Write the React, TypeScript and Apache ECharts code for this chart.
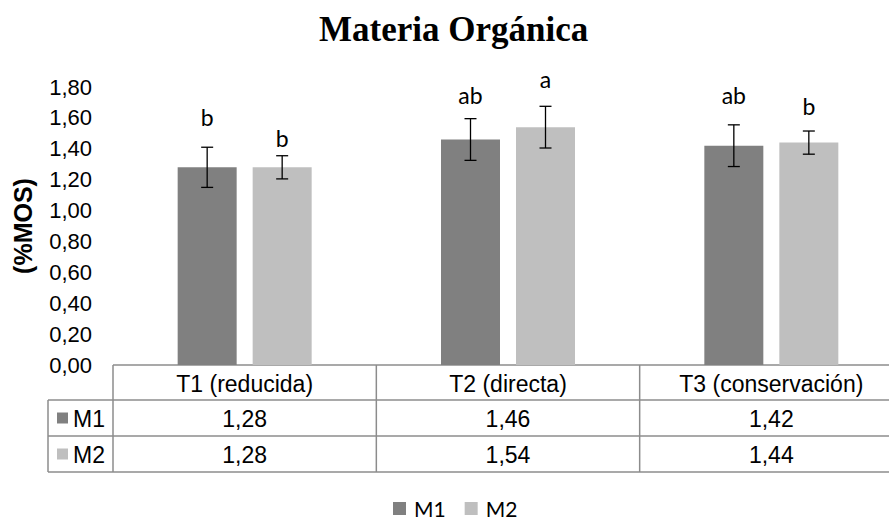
import React, { useEffect, useRef } from "react";
import * as echarts from "echarts";

const categories = ["T1 (reducida)", "T2 (directa)", "T3 (conservación)"];
const seriesNames = ["M1", "M2"];
const m1Values = [1.28, 1.46, 1.42];
const m2Values = [1.28, 1.54, 1.44];
const m1Errors = [0.13, 0.135, 0.135];
const m2Errors = [0.075, 0.135, 0.075];
const m1Letters = ["b", "ab", "ab"];
const m2Letters = ["b", "a", "b"];
const m1LetterLevel = [1.603, 1.747, 1.747];
const m2LetterLevel = [1.467, 1.851, 1.679];
const yMin = 0;
const yMax = 1.8;
const yInterval = 0.2;

const C1 = "#808080";
const C2 = "#bfbfbf";
const GRID_COLOR = "#8c8c8c";
const BAR_W = 59;
const BAR_GAP = 16;
const SANS = '"Liberation Sans", Arial, sans-serif';
const LETTER_FONT = "Lato, 'Open Sans', sans-serif";

const fmt = (v: number) => v.toFixed(2).replace(".", ",");

function errorSeries(name: string, values: number[], errs: number[], letters: string[], levels: number[], sign: number) {
  return {
    name,
    type: "custom",
    coordinateSystem: "cartesian2d",
    clip: false,
    z: 5,
    data: values.map((v, i) => [i, v]),
    encode: { x: 0, y: 1 },
    renderItem: (params: any, api: any) => {
      const i = params.dataIndex;
      const v = values[i];
      const e = errs[i];
      const off = sign * (BAR_W / 2 + BAR_GAP / 2);
      const c = api.coord([i, v]);
      const x = c[0] + off;
      const yt = api.coord([i, v + e])[1];
      const yb = api.coord([i, v - e])[1];
      const yl = api.coord([i, levels[i]])[1];
      const cap = 6;
      const st = { stroke: "#000", lineWidth: 1.3 };
      return {
        type: "group",
        children: [
          { type: "line", shape: { x1: x, y1: yt, x2: x, y2: yb }, style: st },
          { type: "line", shape: { x1: x - cap, y1: yt, x2: x + cap, y2: yt }, style: st },
          { type: "line", shape: { x1: x - cap, y1: yb, x2: x + cap, y2: yb }, style: st },
          {
            type: "text",
            style: {
              text: letters[i],
              x,
              y: yl,
              align: "center",
              verticalAlign: "middle",
              fill: "#000",
              fontSize: 23,
              fontFamily: LETTER_FONT,
            },
          },
        ],
      };
    },
  };
}

function buildTable(chart: any) {
  const xs = categories.map((_, i) => chart.convertToPixel({ xAxisIndex: 0 }, i) as number);
  const band = xs[1] - xs[0];
  const yBase = chart.convertToPixel({ yAxisIndex: 0 }, yMin) as number;
  const left = xs[0] - band / 2;
  const right = xs[xs.length - 1] + band / 2;
  const labelLeft = left - 65;
  const headerH = 35;
  const rowH = 36;
  const r1 = yBase + headerH;
  const r2 = r1 + rowH;
  const r3 = r2 + rowH;
  const ls = { stroke: GRID_COLOR, lineWidth: 1.5 };
  const els: any[] = [];
  const line = (x1: number, y1: number, x2: number, y2: number) =>
    els.push({ type: "line", shape: { x1, y1, x2, y2 }, style: ls, silent: true });
  line(left, yBase, right, yBase);
  line(labelLeft, r1, right, r1);
  line(labelLeft, r2, right, r2);
  line(labelLeft, r3, right, r3);
  line(labelLeft, r1, labelLeft, r3);
  for (let i = 0; i <= categories.length; i++) {
    const x = left + i * band;
    line(x, yBase, x, r3);
  }
  const txt = (text: string, x: number, y: number, align = "center") =>
    els.push({
      type: "text",
      silent: true,
      style: { text, x, y, align, verticalAlign: "middle", fill: "#000", fontSize: 23, fontFamily: SANS },
    });
  categories.forEach((c, i) => {
    txt(c, xs[i], yBase + headerH / 2 + 1);
    txt(fmt(m1Values[i]), xs[i], r1 + rowH / 2 + 1);
    txt(fmt(m2Values[i]), xs[i], r2 + rowH / 2 + 1);
  });
  [r1, r2].forEach((ry, k) => {
    els.push({
      type: "rect",
      silent: true,
      shape: { x: labelLeft + 9, y: ry + rowH / 2 - 5.5, width: 11, height: 11 },
      style: { fill: k === 0 ? C1 : C2 },
    });
    txt(seriesNames[k], labelLeft + 25, ry + rowH / 2 + 1, "left");
  });
  return els;
}

export default function App() {
  const ref = useRef<HTMLDivElement>(null);
  useEffect(() => {
    if (!ref.current) return;
    const chart = echarts.init(ref.current, null, { renderer: "svg", width: 889, height: 521 });
    const option: any = {
      animation: false,
      backgroundColor: "#fff",
      title: {
        text: "Materia Orgánica",
        left: 314,
        top: 7,
        textStyle: { fontFamily: '"Liberation Serif", "Times New Roman", serif', fontWeight: "bold", fontSize: 35, color: "#000" },
      },
      legend: {
        data: seriesNames,
        left: 393,
        top: 498,
        padding: 0,
        icon: "rect",
        itemWidth: 13,
        itemHeight: 13,
        itemGap: 19,
        textStyle: { fontSize: 21, lineHeight: 21, fontFamily: LETTER_FONT, color: "#000", padding: [0, 0, 0, 3] },
      },
      grid: { left: 113, top: 87, width: 790, height: 278, outerBoundsMode: "none" },
      xAxis: {
        type: "category",
        data: categories,
        axisLine: { show: false },
        axisTick: { show: false },
        axisLabel: { show: false },
        splitLine: { show: false },
      },
      yAxis: {
        type: "value",
        min: yMin,
        max: yMax,
        interval: yInterval,
        name: "(%MOS)",
        nameLocation: "middle",
        nameRotate: 90,
        nameGap: 78,
        nameTextStyle: { fontFamily: SANS, fontWeight: "bold", fontSize: 25, color: "#000" },
        axisLine: { show: false },
        axisTick: { show: false },
        splitLine: { show: false },
        axisLabel: { formatter: (v: number) => fmt(v), fontSize: 22, fontFamily: SANS, color: "#000", margin: 21 },
      },
      series: [
        { name: "M1", type: "bar", data: m1Values, barWidth: BAR_W, barGap: `${(BAR_GAP / BAR_W) * 100}%`, itemStyle: { color: C1 } },
        { name: "M2", type: "bar", data: m2Values, barWidth: BAR_W, barGap: `${(BAR_GAP / BAR_W) * 100}%`, itemStyle: { color: C2 } },
        errorSeries("errM1", m1Values, m1Errors, m1Letters, m1LetterLevel, -1),
        errorSeries("errM2", m2Values, m2Errors, m2Letters, m2LetterLevel, 1),
      ],
    };
    chart.setOption(option);
    chart.setOption({ graphic: buildTable(chart) });
    return () => chart.dispose();
  }, []);
  return <div ref={ref} style={{ position: "fixed", left: 0, top: 0, width: 889, height: 521, background: "#fff" }} />;
}
